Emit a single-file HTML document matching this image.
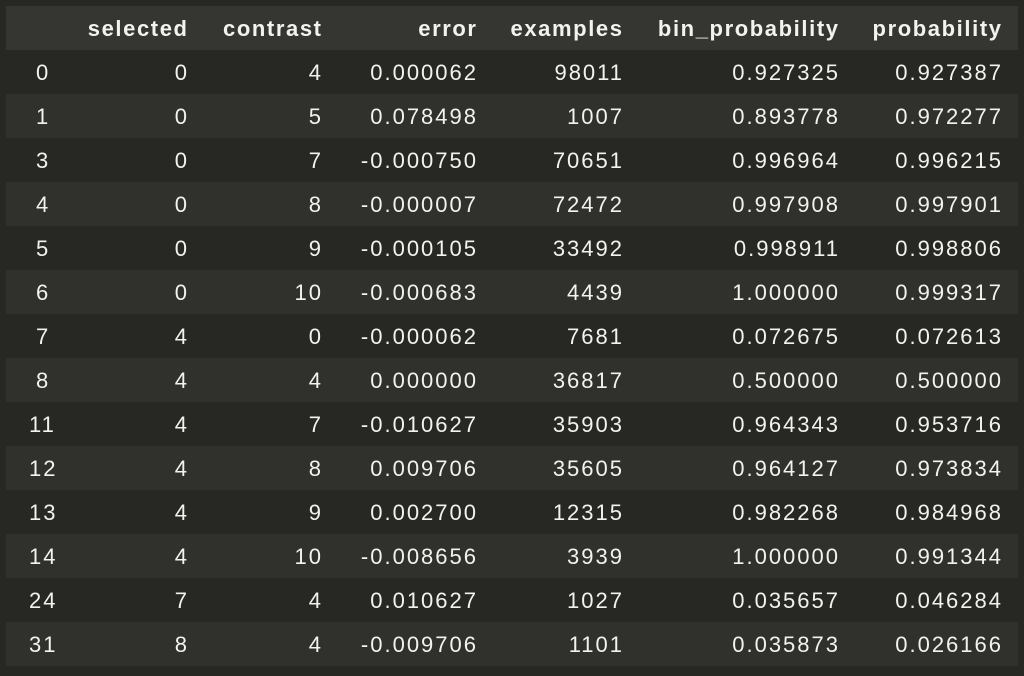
<!DOCTYPE html>
<html><head><meta charset="utf-8"><style>
body{margin:0;width:1024px;height:676px;background:#272824;font-family:"Liberation Sans",sans-serif;color:#f2f2ee;overflow:hidden;position:relative}
.row{position:absolute;left:6px;width:1012px;height:44px}
.hdr{top:6px;background:#353632;font-weight:bold}
.hdr .c{letter-spacing:1.6px;margin-right:-1.6px}
.alt{background:#30312d}
.c{position:absolute;top:1px;line-height:44px;font-size:22px;white-space:nowrap;letter-spacing:2px;margin-right:-2px}
</style></head><body>
<div id="tbl"></div>
<script>
const headers=["","selected","contrast","error","examples","bin_probability","probability"];
const idx=["0","1","3","4","5","6","7","8","11","12","13","14","24","31"];
const selected=["0","0","0","0","0","0","4","4","4","4","4","4","7","8"];
const contrast=["4","5","7","8","9","10","0","4","7","8","9","10","4","4"];
const errorv=["0.000062","0.078498","-0.000750","-0.000007","-0.000105","-0.000683","-0.000062","0.000000","-0.010627","0.009706","0.002700","-0.008656","0.010627","-0.009706"];
const examples=["98011","1007","70651","72472","33492","4439","7681","36817","35903","35605","12315","3939","1027","1101"];
const binp=["0.927325","0.893778","0.996964","0.997908","0.998911","1.000000","0.072675","0.500000","0.964343","0.964127","0.982268","1.000000","0.035657","0.035873"];
const prob=["0.927387","0.972277","0.996215","0.997901","0.998806","0.999317","0.072613","0.500000","0.953716","0.973834","0.984968","0.991344","0.046284","0.026166"];
const rights=[181,315,470,616,832,995];
const names=["selected","contrast","error","examples","bin-probability","probability"];
const tbl=document.getElementById('tbl');
function cell(row,txt,r,name,center){
  const c=document.createElement('div');c.className='c';c.textContent=txt;
  if(center){c.style.left=(37-txt.length*7)+'px';}else{c.style.right=(1012-r)+'px';}
  
  
  row.appendChild(c);
}
const h=document.createElement('div');h.className='row hdr';


names.forEach((n,i)=>cell(h,headers[i+1],rights[i],n+'-header',false));
tbl.appendChild(h);
const cols=[selected,contrast,errorv,examples,binp,prob];
idx.forEach((ix,r)=>{
  const row=document.createElement('div');row.className='row'+(r%2?' alt':'');
  row.style.top=(50+r*44)+'px';
  
  
  cell(row,ix,0,'row-index',true);
  cols.forEach((arr,i)=>cell(row,arr[r],rights[i],names[i]+'-cell',false));
  tbl.appendChild(row);
});
</script>
</body></html>
